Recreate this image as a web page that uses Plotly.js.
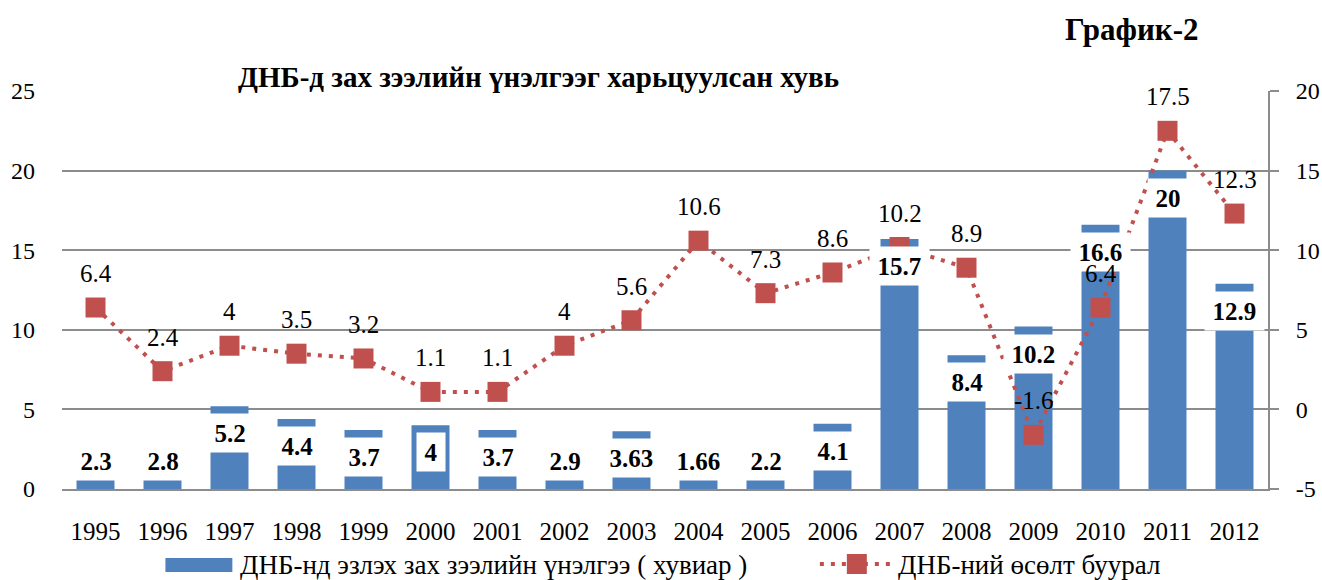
<!DOCTYPE html>
<html>
<head>
<meta charset="utf-8">
<script src="https://cdn.plot.ly/plotly-3.0.1.min.js"></script>
<style>html,body{margin:0;padding:0;background:#fff;}</style>
</head>
<body>
<div id="chart" style="width:1322px;height:580px;"></div>
<script>
// ---- data ----
const years = ['1995','1996','1997','1998','1999','2000','2001','2002','2003','2004','2005','2006','2007','2008','2009','2010','2011','2012'];
const marketCapShare = [2.3, 2.8, 5.2, 4.4, 3.7, 4, 3.7, 2.9, 3.63, 1.66, 2.2, 4.1, 15.7, 8.4, 10.2, 16.6, 20, 12.9];
const gdpGrowth = [6.4, 2.4, 4, 3.5, 3.2, 1.1, 1.1, 4, 5.6, 10.6, 7.3, 8.6, 10.2, 8.9, -1.6, 6.4, 17.5, 12.3];
const leftTicks = [0, 5, 10, 15, 20, 25];
const rightTicks = [-5, 0, 5, 10, 15, 20];
const barName = 'ДНБ-нд эзлэх зах зээлийн үнэлгээ ( хувиар )';
const lineName = 'ДНБ-ний өсөлт буурал';
const chartTitle = 'ДНБ-д зах зээлийн үнэлгээг харьцуулсан хувь';
const chartTag = 'График-2';

// ---- style ----
const W = 1322, H = 580;
const M = {l: 61.5, r: 53.5, t: 91, b: 91};
const PW = W - M.l - M.r, PH = H - M.t - M.b;
const px2x = p => (p - M.l) / PW;
const px2y = p => (H - M.b - p) / PH;
const FONT = '"Liberation Serif", "Times New Roman", serif';
const BLUE = '#4F81BD', RED = '#C0504D', GRID = '#8c8c8c';

const bars = {
  type: 'bar', x: years, y: marketCapShare, name: barName,
  marker: {color: BLUE}, hoverinfo: 'skip', showlegend: false
};
const line = {
  type: 'scatter', mode: 'lines+markers', x: years, y: gdpGrowth, yaxis: 'y2', name: lineName,
  line: {color: RED, width: 4, dash: '4px,7px'},
  marker: {symbol: 'square', size: 20, color: RED, line: {width: 0}},
  hoverinfo: 'skip', showlegend: false
};

const annotations = [];
// bar value labels (white boxes, bold) placed at inside end of bars
years.forEach((yr, i) => {
  const v = marketCapShare[i];
  annotations.push({
    x: i, y: Math.max(v, 3.45), xref: 'x', yref: 'y', yanchor: 'top', yshift: -7,
    text: '\u200a' + v + '\u200a', showarrow: false, bgcolor: '#ffffff', borderpad: 5.5,
    font: {family: FONT, size: 25, color: '#000', weight: 'bold'}
  });
});
// line value labels
years.forEach((yr, i) => {
  const v = gdpGrowth[i];
  annotations.push({
    x: i, y: v, xref: 'x', yref: 'y2', yanchor: 'middle', yshift: 34,
    text: String(v), showarrow: false,
    font: {family: FONT, size: 25, color: '#000'}
  });
});
// titles
annotations.push({
  xref: 'paper', yref: 'paper', x: px2x(538), y: px2y(77), xanchor: 'center', yanchor: 'middle',
  text: '<b>' + chartTitle + '</b>', showarrow: false,
  font: {family: FONT, size: 29, color: '#000'}
});
annotations.push({
  xref: 'paper', yref: 'paper', x: px2x(1132), y: px2y(29), xanchor: 'center', yanchor: 'middle',
  text: '<b>' + chartTag + '</b>', showarrow: false,
  font: {family: FONT, size: 31, color: '#000'}
});
// custom legend texts
annotations.push({
  xref: 'paper', yref: 'paper', x: px2x(238), y: px2y(565), xanchor: 'left', yanchor: 'middle',
  text: barName, showarrow: false, font: {family: FONT, size: 27, color: '#000'}
});
annotations.push({
  xref: 'paper', yref: 'paper', x: px2x(896), y: px2y(565), xanchor: 'left', yanchor: 'middle',
  text: lineName, showarrow: false, font: {family: FONT, size: 27, color: '#000'}
});

const shapes = [
  {type: 'rect', xref: 'paper', yref: 'paper', x0: px2x(165), x1: px2x(232), y0: px2y(558), y1: px2y(572),
   fillcolor: BLUE, line: {width: 0}},
  {type: 'line', xref: 'paper', yref: 'paper', x0: px2x(820), x1: px2x(894), y0: px2y(564), y1: px2y(564),
   line: {color: RED, width: 4, dash: '4px,7px'}},
  {type: 'rect', xref: 'paper', yref: 'paper', x0: px2x(847), x1: px2x(867), y0: px2y(554), y1: px2y(574),
   fillcolor: RED, line: {width: 0}}
];

const layout = {
  width: W, height: H,
  margin: M,
  paper_bgcolor: '#fff', plot_bgcolor: '#fff',
  showlegend: false,
  bargap: 0.433,
  font: {family: FONT, size: 24, color: '#000'},
  xaxis: {
    type: 'category', range: [-0.5, years.length - 0.5], autorange: false,
    showgrid: false, showline: true, linecolor: GRID, linewidth: 2,
    ticks: '', tickfont: {family: FONT, size: 25, color: '#000'}, ticklabelstandoff: 19,
    zeroline: false, fixedrange: true
  },
  yaxis: {
    range: [0, 25], autorange: false, tickmode: 'array', tickvals: leftTicks, ticktext: leftTicks.map(String),
    showgrid: true, gridcolor: GRID, gridwidth: 2,
    showline: false, zeroline: false, ticks: '',
    tickfont: {family: FONT, size: 24, color: '#000'}, ticklabelstandoff: 26, fixedrange: true
  },
  yaxis2: {
    range: [-5, 20], autorange: false, tickmode: 'array', tickvals: rightTicks, ticktext: rightTicks.map(String),
    overlaying: 'y', side: 'right', showgrid: false,
    showline: true, linecolor: GRID, linewidth: 2, zeroline: false,
    ticks: 'outside', ticklen: 9, tickcolor: GRID, tickwidth: 2,
    tickfont: {family: FONT, size: 24, color: '#000'}, ticklabelstandoff: 12, fixedrange: true
  },
  annotations: annotations,
  shapes: shapes
};

Plotly.newPlot('chart', [bars, line], layout, {displayModeBar: false, staticPlot: true});
</script>
</body>
</html>
